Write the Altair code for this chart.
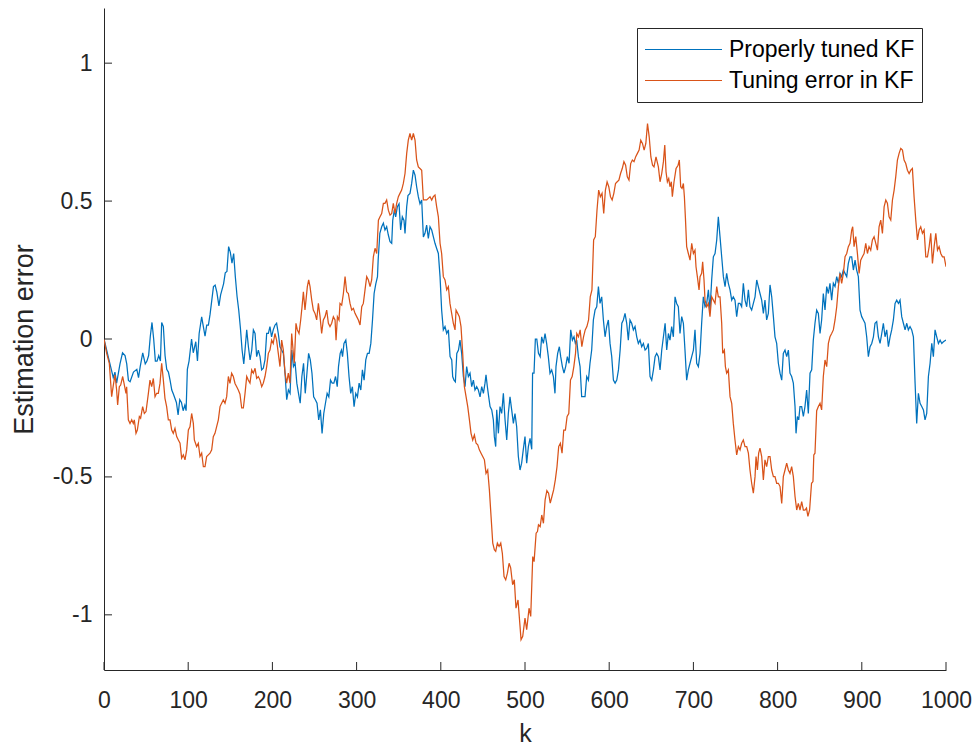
import altair as alt
import pandas as pd

# Series names and MATLAB-style default colours
SERIES = ["Properly tuned KF", "Tuning error in KF"]
COLORS = ["#0072BD", "#D95319"]

# Properly tuned filter: sample index k and estimation error
tuned_k = [
    0, 5, 11, 13, 15, 19, 22, 25, 27, 29, 31, 35, 39, 41, 43, 46, 49, 51, 53, 55,
    57, 59, 61, 63, 65, 67, 68.5, 70.5, 72.5, 74.5, 76.5, 78.5, 80.5, 82.5, 86, 88, 90, 92, 94, 96,
    97.5, 99, 101, 104, 106, 109, 111, 113, 116, 118, 120, 122, 124, 126, 130, 132, 134, 136.5, 138.5, 142,
    144, 146, 148, 150, 152, 154, 156, 158, 160, 162, 164, 166, 167.5, 169.5, 171.5, 173.5, 175.5, 177.4, 179.4, 181.3,
    183.3, 185.3, 187.2, 189.2, 191.2, 193.2, 195.2, 197.1, 199, 201, 203, 205, 207, 209, 211, 213, 215, 217, 219, 221,
    223, 225, 227, 229, 231, 233, 235, 237, 239, 241, 243, 245, 247, 249, 251, 253, 255, 257, 259, 261,
    263, 265, 267, 269, 271, 273, 275, 277, 278.5, 280.5, 282, 283.3, 285, 287.2, 289, 291, 293, 295, 297, 299,
    301, 303, 305, 306.9, 308.9, 310.9, 312.9, 314.9, 316.9, 318.9, 320.8, 322.8, 324.8, 325.6, 327.6, 329.8, 331.8, 333.7, 335.7, 337.7,
    339.7, 341.7, 342.9, 344.8, 346.4, 348.4, 350.4, 352.3, 354.3, 356.3, 357.5, 359.5, 361, 363.4, 365.4, 367.4, 369.4, 371.3, 373.3, 375.3,
    377.3, 379.3, 381.2, 383.2, 385.2, 387.2, 389.2, 391.2, 393.1, 395.1, 397.1, 399.1, 401, 403, 405, 407, 409, 411, 413, 414.1,
    415.7, 417.3, 419, 421, 422.8, 424.8, 426.8, 428.8, 430.7, 432.7, 434.7, 436.7, 438.7, 440.6, 442.6, 444.6, 446.6, 448.6, 450.6, 452.5,
    453.7, 455.3, 456.9, 458.5, 460.5, 462.4, 463.6, 465.2, 466.4, 468.4, 470.3, 472.3, 474.3, 476.3, 478.3, 480.2, 482.2, 484.2, 486.2, 488.1,
    490.1, 492.1, 494.1, 496, 498, 500, 502, 504, 506, 508, 509, 510.7, 512.3, 514, 516, 518, 519.8, 521.8, 523.8, 525.7,
    527.7, 529.7, 531.7, 533.7, 535.6, 536.8, 538.8, 540.8, 542.4, 544.4, 546.3, 548.3, 550.3, 552.3, 554.3, 556.3, 558.2, 559.8, 561.4, 563.4,
    565.4, 567.3, 569.3, 571.3, 573.3, 575.3, 577.2, 579.2, 581.2, 583.2, 585.2, 587.2, 589.1, 591.1, 593.1, 595.1, 597, 599, 601, 603,
    605, 607, 609, 611, 613, 615, 616.8, 618.8, 620.8, 622.7, 624.7, 626.7, 628.7, 630.7, 632.7, 634.6, 636.6, 638.6, 640.6, 642.6,
    644.5, 646.5, 648.5, 650.5, 652.5, 654.5, 656.4, 658.4, 660.4, 662.4, 664.4, 666.4, 668.3, 670.3, 672.2, 674.2, 676.2, 678.2, 680.1, 682.1,
    684.1, 686.1, 688.1, 690, 692, 694, 696, 698, 700, 701.9, 703.9, 705.9, 707.9, 709.8, 711.8, 713.8, 715.8, 717.8, 719.7, 721.7,
    723.7, 725.7, 727.7, 729.6, 731.6, 733.6, 735.6, 737.6, 739.5, 741.5, 743.5, 745.5, 747.4, 749.4, 751.4, 753.4, 755.4, 757.3, 759.3, 761.3,
    763.3, 765.3, 767.2, 769.2, 771.2, 773.2, 775.2, 777.1, 779.1, 781.1, 783.1, 785, 787, 789, 791, 793, 795, 796.9, 798.9, 800.9,
    802.9, 804.9, 806.8, 808.8, 810.8, 812.8, 814.7, 816.7, 818.7, 820.7, 821.9, 823.5, 825.1, 826.6, 828.6, 830.6, 832.5, 834.5, 836.5, 838.5,
    840.5, 842.4, 844.4, 846.4, 848.4, 850.4, 852.3, 854.3, 856.3, 858.3, 860.3, 862.2, 864.2, 866.2, 868.2, 870.2, 872.2, 874.1, 876.1, 878.1,
    880.1, 882.1, 884, 886, 888, 890, 892, 893.9, 895.9, 897.9, 899.9, 901.9, 903.8, 905.8, 907.8, 909.8, 911.8, 913.8, 915.7, 917.7,
    919.7, 921.7, 923.7, 925.6, 927.6, 929.6, 931.6, 933.6, 935.5, 937.5, 939.5, 941.5, 943.5, 945.4, 947.4, 949.4, 951.4, 953.4, 955.3, 957.3,
    959.3, 961.3, 963.3, 965.2, 967.2, 969.2, 971.2, 973.2, 975.1, 977.1, 979.1, 981.1, 983.1, 985, 987, 989, 991, 993, 995, 996.9,
    1000,
]
tuned_err = [
    0, -0.064, -0.14, -0.12, -0.16, -0.09, -0.05, -0.06, -0.09, -0.15, -0.155, -0.12, -0.11, -0.14, -0.10, -0.05, -0.09, -0.08, -0.06, 0.01,
    0.06, 0.0, -0.08, -0.08, -0.06, -0.08, 0.06, 0.045, -0.06, -0.11, -0.12, -0.15, -0.185, -0.2, -0.23, -0.275, -0.22, -0.23, -0.26, -0.24,
    -0.26, -0.11, -0.08, 0, -0.05, -0.01, -0.08, 0.02, 0.08, 0.045, 0.01, 0.05, 0.05, 0.09, 0.19, 0.195, 0.17, 0.12, 0.16, 0.2,
    0.24, 0.245, 0.335, 0.315, 0.275, 0.31, 0.225, 0.155, 0.105, 0.04, -0.04, -0.09, -0.04, 0.033, -0.028, -0.076, -0.04, 0.033, 0.02, -0.064,
    -0.04, -0.064, -0.112, -0.106, -0.076, 0.02, 0.02, 0.045, 0.008, 0.033, 0.05, 0.057, 0.02, -0.028, -0.04, -0.052, -0.124, -0.22, -0.185, -0.197,
    -0.04, -0.1, -0.088, -0.16, -0.197, -0.233, -0.136, -0.088, -0.197, -0.124, -0.052, -0.076, -0.124, -0.21, -0.22, -0.233, -0.293, -0.257, -0.342, -0.27,
    -0.233, -0.197, -0.21, -0.149, -0.16, -0.16, -0.136, -0.173, -0.1, -0.052, -0.04, -0.064, -0.016, -0.004, -0.052, -0.136, -0.197, -0.173, -0.245, -0.197,
    -0.21, -0.16, -0.185, -0.112, -0.149, -0.076, -0.052, -0.052, -0.016, 0.07, 0.165, 0.2, 0.226, 0.286, 0.383, 0.407, 0.42, 0.395, 0.407, 0.377,
    0.353, 0.347, 0.43, 0.467, 0.443, 0.48, 0.49, 0.395, 0.443, 0.43, 0.383, 0.48, 0.52, 0.528, 0.564, 0.612, 0.594, 0.552, 0.516, 0.49,
    0.504, 0.37, 0.383, 0.413, 0.365, 0.407, 0.395, 0.37, 0.347, 0.328, 0.31, 0.226, 0.105, 0.033, 0.045, 0.02, 0.033, -0.064, -0.076, -0.136,
    -0.149, -0.155, -0.052, -0.04, -0.004, -0.052, -0.136, -0.173, -0.1, -0.136, -0.124, -0.173, -0.149, -0.185, -0.173, -0.185, -0.21, -0.173, -0.197, -0.16,
    -0.13, -0.173, -0.21, -0.245, -0.257, -0.293, -0.354, -0.39, -0.257, -0.342, -0.245, -0.27, -0.197, -0.293, -0.366, -0.27, -0.21, -0.257, -0.306, -0.27,
    -0.318, -0.426, -0.475, -0.45, -0.40, -0.354, -0.45, -0.39, -0.36, -0.40, -0.124, -0.124, 0, 0, -0.052, -0.064, 0.008, -0.016, 0.02, -0.016,
    -0.064, -0.124, -0.112, -0.136, -0.197, -0.1, -0.052, -0.028, -0.064, -0.1, -0.124, -0.1, -0.064, -0.088, 0.033, -0.004, 0.008, -0.016, -0.004, -0.064,
    -0.1, -0.209, -0.209, -0.209, -0.136, -0.149, -0.088, -0.04, 0.069, 0.105, 0.117, 0.19, 0.129, 0.153, 0.069, 0.008, 0.045, 0.069, -0.016, -0.064,
    -0.149, -0.16, -0.149, -0.112, -0.04, 0.057, 0.069, 0.093, 0.057, -0.004, 0.069, 0.057, 0.033, 0.045, 0.008, -0.016, -0.004, -0.028, -0.016, -0.04,
    -0.034, -0.016, -0.136, -0.149, -0.112, -0.064, -0.052, -0.064, -0.112, -0.04, 0.008, 0.057, -0.04, 0.02, -0.004, 0.045, 0.008, 0.153, 0.129, 0.117,
    0.02, 0.081, 0.057, -0.04, -0.149, -0.112, -0.088, -0.064, -0.04, 0.033, -0.088, -0.1, -0.052, 0.057, 0.153, 0.117, 0.129, 0.178, 0.105, 0.214,
    0.298, 0.31, 0.359, 0.443, 0.371, 0.298, 0.226, 0.19, 0.238, 0.202, 0.178, 0.141, 0.153, 0.141, 0.081, 0.129, 0.129, 0.117, 0.202, 0.141,
    0.117, 0.178, 0.117, 0.105, 0.129, 0.153, 0.214, 0.19, 0.165, 0.141, 0.093, 0.141, 0.069, 0.093, 0.196, 0.153, 0.081, 0.008, -0.016, -0.088,
    -0.124, -0.149, -0.052, -0.04, -0.064, -0.04, -0.124, -0.136, -0.16, -0.245, -0.342, -0.281, -0.293, -0.245, -0.245, -0.281, -0.245, -0.185, -0.27, -0.124,
    -0.112, -0.004, 0.057, 0.105, 0.093, 0.02, 0.069, 0.165, 0.105, 0.19, 0.165, 0.202, 0.141, 0.202, 0.19, 0.226, 0.202, 0.238, 0.226, 0.25,
    0.238, 0.226, 0.274, 0.298, 0.298, 0.25, 0.286, 0.25, 0.226, 0.105, 0.081, 0.069, 0.057, 0.008, -0.064, -0.028, -0.016, 0.008, 0.057, 0.063,
    0.008, -0.016, 0.02, 0.057, 0.008, 0.033, -0.028, 0.008, 0.033, 0.069, 0.129, 0.141, 0.129, 0.141, 0.081, 0.057, 0.033, 0.057, 0.033, 0.045,
    0.033, 0.008, -0.161, -0.306, -0.197, -0.233, -0.245, -0.257, -0.293, -0.27, -0.136, -0.088, -0.016, -0.064, 0.033, 0.008, -0.016, -0.004, -0.016, -0.01,
    -0.004,
]

# Filter with a tuning error: sample index k and estimation error
mistuned_k = [
    0, 3.2, 6.3, 9.1, 11.1, 13.1, 15, 16.2, 18.2, 19.8, 22.2, 23.8, 26.1, 26.9, 28.9, 30.9, 32.9, 34.8, 36, 38,
    39.6, 42, 43.5, 45.9, 47.9, 49.9, 52.7, 54.6, 56.6, 58.6, 60.6, 62.5, 64.5, 66.5, 68.5, 70.5, 72.4, 74.4, 76.4, 78.4,
    80.4, 82.3, 84.3, 86.3, 88.3, 90.3, 92.2, 94.2, 96.2, 98.2, 100.2, 102.1, 104.1, 106.1, 107.3, 110, 112, 114, 116, 118,
    120, 121.9, 123.9, 125.9, 127.9, 129.8, 131.8, 133.8, 135.8, 137.8, 139.7, 141.7, 143.7, 145.7, 147.7, 149.6, 151.6, 153.6, 155.6, 157.6,
    159.5, 161.5, 163.5, 165.5, 167.5, 169.5, 171.4, 173.4, 175.4, 177.4, 179.4, 181.3, 183.3, 185.3, 187.3, 189.2, 191.2, 193.2, 195.2, 197.1,
    199.1, 201, 203, 205, 207, 209, 211, 213, 215, 216.9, 218.9, 220.9, 222.9, 224.9, 226, 228, 229.6, 231.6, 233.6, 235.2,
    236.8, 238.7, 239.9, 241.5, 243.1, 244.7, 246.7, 248.6, 250.6, 252.6, 254.6, 256.6, 258.5, 260.5, 262.5, 264.5, 266.5, 268.4, 270.4, 272.4,
    274.4, 275.6, 277.2, 279.1, 280.3, 282.3, 284.3, 286.3, 288.2, 290.2, 292.2, 294.2, 296.2, 298.1, 300.1, 302.1, 304.1, 306.1, 308, 310,
    312, 314, 316, 317.9, 319.9, 321.9, 323.9, 325.9, 327.8, 329.8, 331.8, 333.7, 335.7, 337.7, 339.7, 341.7, 343.6, 345.6, 347.6, 349.6,
    351.5, 353.5, 355.5, 357.5, 359.5, 361.4, 363.4, 365.4, 367.4, 369.4, 371.3, 373.3, 375.3, 377.3, 379.3, 381.2, 383.2, 385.2, 387.2, 389.2,
    391.1, 393.1, 395.1, 397.1, 399.1, 401, 403, 405, 407, 409, 410.9, 412.9, 414.9, 416.9, 418.1, 420.1, 422, 424, 426, 428,
    430, 432, 434, 435.9, 437.9, 439.9, 441.9, 443.9, 445.8, 447.8, 449.8, 451.8, 453.7, 455.7, 457.7, 459.7, 461.7, 463.6, 465.2, 467.2,
    469.2, 471.2, 473.1, 475.1, 477.1, 479.1, 481.1, 483, 485.3, 487.3, 489.3, 491.7, 494.1, 495.3, 497.3, 500, 502, 504.8, 506.8, 509.2,
    510.8, 513.2, 514.8, 516, 518, 519.9, 521.9, 523.9, 526, 528, 530, 532, 534, 536, 538, 540, 542, 544, 546, 548,
    550, 552, 554, 556, 558, 560, 561.5, 563.5, 565.5, 567.5, 569.5, 571.5, 573.5, 575.5, 577.5, 579.5, 581.5, 583.5, 585.5, 587.5,
    589.5, 591.5, 593.5, 595.5, 597.5, 599.5, 601.5, 603.5, 605.5, 607.5, 609.5, 611.5, 613.5, 615.5, 617.5, 619.5, 621.5, 623.5, 625.5, 627.5,
    629.5, 631.5, 633.5, 635.5, 637.5, 639.5, 641.5, 643.5, 645.5, 647.5, 649.5, 651.5, 653.2, 655.6, 658.4, 660.4, 662.4, 664.4, 666, 667.5,
    669.1, 670.7, 672.2, 673.8, 675, 677, 679.4, 681.8, 683.3, 684.9, 686.5, 688.1, 689.3, 690.5, 692, 694, 696, 698, 700, 701.9,
    703.1, 704.7, 706.7, 707.9, 709.8, 711, 712.6, 713.8, 715.8, 717.8, 719.7, 721.7, 723.7, 725.7, 727.7, 729.6, 731.6, 733.6, 734.8, 736.8,
    738, 739.5, 741.5, 743.5, 745.5, 747.4, 749.4, 751.4, 753.4, 755.4, 757.3, 759.3, 761.3, 763.3, 765.3, 767.2, 769.2, 771.2, 773.2, 774.4,
    776, 777.5, 779.1, 781.1, 783.1, 785, 787, 789, 791, 793, 795, 796.9, 798.9, 800.9, 802.9, 804.9, 806.8, 808.8, 810.8, 812.8,
    814.7, 816.7, 818.7, 820.7, 822.7, 824.6, 826.6, 828.6, 830.6, 832.5, 834.3, 836, 838, 840.3, 842, 843, 844.4, 846.4, 848.4, 850.4,
    852.3, 854.3, 856.3, 858.3, 860.3, 862.2, 864.2, 866.2, 868.2, 870.2, 872.2, 874.1, 876.1, 878.1, 880.1, 882.1, 884, 886, 888, 889.2,
    890.8, 892.8, 894.8, 896.8, 898.7, 900.7, 902.7, 904.7, 906.7, 908.6, 910.6, 912.6, 914.6, 916.6, 918.6, 920.5, 922.5, 924.5, 926.5, 928.5,
    930.4, 932.4, 934.4, 936.4, 938.4, 940.3, 942.3, 944.3, 946.3, 948.3, 950.2, 952.2, 954.2, 956.2, 958.2, 960.1, 962.1, 964.1, 966.1, 968.1,
    970, 972, 974, 976, 978, 980, 981.9, 983.9, 985.9, 987.9, 989.9, 991.8, 993.8, 995.8, 997.8, 1000,
]
mistuned_err = [
    0, -0.052, -0.088, -0.209, -0.167, -0.13, -0.185, -0.239, -0.173, -0.167, -0.136, -0.161, -0.197, -0.173, -0.293, -0.306, -0.293, -0.306, -0.293, -0.342,
    -0.33, -0.281, -0.287, -0.245, -0.27, -0.263, -0.197, -0.149, -0.173, -0.143, -0.209, -0.197, -0.197, -0.161, -0.088, -0.149, -0.215, -0.245, -0.293, -0.293,
    -0.33, -0.342, -0.324, -0.354, -0.366, -0.378, -0.432, -0.42, -0.438, -0.402, -0.33, -0.318, -0.27, -0.306, -0.366, -0.39, -0.378, -0.426, -0.414, -0.463,
    -0.463, -0.426, -0.42, -0.414, -0.402, -0.354, -0.342, -0.318, -0.293, -0.245, -0.233, -0.221, -0.233, -0.209, -0.136, -0.161, -0.124, -0.136, -0.161, -0.173,
    -0.185, -0.2, -0.25, -0.25, -0.197, -0.136, -0.149, -0.16, -0.112, -0.124, -0.106, -0.143, -0.136, -0.149, -0.173, -0.16, -0.136, -0.1, -0.052, -0.04,
    -0.004, -0.016, 0.02, -0.004, -0.052, -0.1, -0.004, -0.04, -0.124, -0.16, -0.124, -0.16, 0.02, -0.052, -0.088, 0.057, 0.033, 0.02, 0.069, 0.117,
    0.171, 0.105, 0.141, 0.19, 0.214, 0.19, 0.141, 0.105, 0.093, 0.069, 0.129, 0.081, 0.02, 0.069, 0.081, 0.105, 0.057, 0.045, 0.057, 0.081,
    0.069, -0.004, 0.081, 0.069, 0.129, 0.123, 0.165, 0.226, 0.171, 0.165, 0.129, 0.105, 0.111, 0.093, 0.081, 0.069, 0.051, 0.117, 0.129, 0.178,
    0.226, 0.214, 0.19, 0.214, 0.298, 0.329, 0.31, 0.431, 0.443, 0.455, 0.492, 0.492, 0.504, 0.467, 0.449, 0.455, 0.492, 0.455, 0.492, 0.516,
    0.528, 0.54, 0.564, 0.6, 0.673, 0.721, 0.745, 0.721, 0.745, 0.721, 0.649, 0.624, 0.618, 0.612, 0.504, 0.504, 0.504, 0.51, 0.516, 0.504,
    0.516, 0.522, 0.479, 0.443, 0.347, 0.31, 0.226, 0.214, 0.178, 0.19, 0.129, 0.093, 0.057, 0.033, 0.105, 0.093, 0.081, 0.045, -0.052, -0.173,
    -0.209, -0.245, -0.293, -0.342, -0.366, -0.348, -0.378, -0.384, -0.402, -0.414, -0.426, -0.438, -0.487, -0.475, -0.547, -0.644, -0.74, -0.764, -0.77, -0.74,
    -0.752, -0.74, -0.777, -0.861, -0.873, -0.849, -0.813, -0.83, -0.891, -0.873, -0.976, -0.946, -1.042, -1.09, -1.078, -1.012, -1.054, -0.976, -1.006, -0.789,
    -0.807, -0.704, -0.698, -0.674, -0.68, -0.638, -0.668, -0.583, -0.55, -0.559, -0.595, -0.571, -0.547, -0.511, -0.463, -0.39, -0.378, -0.414, -0.33, -0.33,
    -0.281, -0.27, -0.149, -0.136, -0.1, -0.052, 0.02, 0.008, 0.033, -0.028, 0.008, 0.033, 0.045, 0.069, 0.153, 0.178, 0.359, 0.371, 0.467, 0.54,
    0.516, 0.528, 0.455, 0.54, 0.57, 0.552, 0.516, 0.504, 0.528, 0.564, 0.57, 0.576, 0.6, 0.618, 0.643, 0.63, 0.588, 0.576, 0.636, 0.649,
    0.643, 0.661, 0.673, 0.685, 0.721, 0.709, 0.685, 0.709, 0.781, 0.733, 0.66, 0.63, 0.624, 0.66, 0.624, 0.57, 0.6, 0.643, 0.703, 0.606,
    0.57, 0.582, 0.552, 0.57, 0.516, 0.57, 0.618, 0.63, 0.649, 0.552, 0.546, 0.564, 0.516, 0.44, 0.335, 0.31, 0.286, 0.347, 0.31, 0.322,
    0.262, 0.226, 0.178, 0.226, 0.238, 0.28, 0.214, 0.141, 0.117, 0.129, 0.081, 0.153, 0.141, 0.129, 0.19, 0.153, 0.153, 0.057, -0.052, -0.04,
    -0.1, -0.124, -0.112, -0.209, -0.233, -0.306, -0.366, -0.42, -0.39, -0.402, -0.378, -0.366, -0.39, -0.39, -0.414, -0.475, -0.523, -0.559, -0.499, -0.426,
    -0.475, -0.414, -0.396, -0.426, -0.511, -0.438, -0.463, -0.426, -0.426, -0.475, -0.499, -0.499, -0.523, -0.523, -0.535, -0.596, -0.499, -0.475, -0.45, -0.475,
    -0.487, -0.463, -0.499, -0.571, -0.62, -0.596, -0.62, -0.59, -0.62, -0.62, -0.613, -0.643, -0.62, -0.523, -0.517, -0.42, -0.414, -0.26, -0.245, -0.233,
    -0.257, -0.136, -0.076, -0.1, -0.016, 0.008, 0.02, 0.033, 0.069, 0.117, 0.19, 0.238, 0.202, 0.238, 0.298, 0.31, 0.335, 0.347, 0.395, 0.407,
    0.335, 0.371, 0.31, 0.238, 0.286, 0.298, 0.31, 0.347, 0.31, 0.335, 0.322, 0.359, 0.371, 0.347, 0.322, 0.407, 0.431, 0.383, 0.479, 0.504,
    0.492, 0.443, 0.431, 0.504, 0.54, 0.588, 0.649, 0.673, 0.691, 0.685, 0.649, 0.636, 0.612, 0.6, 0.612, 0.618, 0.515, 0.431, 0.359, 0.395,
    0.407, 0.383, 0.395, 0.298, 0.298, 0.335, 0.383, 0.274, 0.335, 0.383, 0.322, 0.335, 0.31, 0.298, 0.298, 0.262,
]

# Axis tick positions
x_ticks = list(range(0, 1001, 100))
y_ticks = [-1, -0.5, 0, 0.5, 1]

df = pd.concat(
    [
        pd.DataFrame({"k": tuned_k, "err": tuned_err, "series": SERIES[0]}),
        pd.DataFrame({"k": mistuned_k, "err": mistuned_err, "series": SERIES[1]}),
    ],
    ignore_index=True,
)

W, H = 842, 662
FONT = "Liberation Sans"
AXIS_COLOR = "#262626"
TICK_LEN = 8

x_scale = alt.Scale(domain=[0, 1000], nice=False, zero=False)
y_scale = alt.Scale(domain=[-1.2, 1.2], nice=False, zero=False)

x_axis = alt.Axis(
    values=x_ticks,
    title="k",
    labelExpr="toString(datum.value)",
    labelFlush=False,
    labelOverlap=False,
    titleY=71,
    titleBaseline="alphabetic",
    labelPadding=19,
)
y_axis = alt.Axis(
    values=y_ticks,
    title="Estimation error",
    labelExpr="toString(datum.value)",
    labelFlush=False,
    labelOverlap=False,
    titleX=-72,
    titleAngle=270,
    titleBaseline="alphabetic",
    titleFontSize=27,
    labelPadding=12,
)

lines = alt.Chart(df).mark_line(strokeWidth=1.25, clip=True).encode(
    x=alt.X("k:Q", scale=x_scale, axis=x_axis),
    y=alt.Y("err:Q", scale=y_scale, axis=y_axis),
    color=alt.Color(
        "series:N",
        scale=alt.Scale(domain=SERIES, range=COLORS),
        legend=alt.Legend(
            title=None,
            orient="none",
            legendX=533,
            legendY=20,
            symbolType="stroke",
            symbolSize=5929,
            symbolStrokeWidth=1.2,
            clipHeight=29,
            labelFont=FONT,
            labelFontSize=23,
            labelColor="black",
            labelOffset=6,
            labelLimit=0,
            padding=7,
            rowPadding=2,
            strokeColor=AXIS_COLOR,
            fillColor="white",
        ),
    ),
)

# Inward-pointing tick marks on the bottom and left axes
x_tick_marks = alt.Chart(pd.DataFrame({"k": x_ticks})).mark_rule(
    color=AXIS_COLOR, strokeWidth=1
).encode(
    x=alt.X("k:Q", scale=x_scale, axis=x_axis),
    y=alt.value(H),
    y2=alt.value(H - TICK_LEN),
)
y_tick_marks = alt.Chart(pd.DataFrame({"err": y_ticks})).mark_rule(
    color=AXIS_COLOR, strokeWidth=1
).encode(
    y=alt.Y("err:Q", scale=y_scale, axis=y_axis),
    x=alt.value(0),
    x2=alt.value(TICK_LEN),
)

chart = (
    alt.layer(lines, x_tick_marks, y_tick_marks)
    .properties(
        width=W,
        height=H,
        autosize=alt.AutoSizeParams(type="none"),
        padding={"left": 104, "top": 8, "right": 30, "bottom": 78},
        background="white",
    )
    .configure_view(stroke=None)
    .configure_axis(
        grid=False,
        ticks=False,
        domainColor=AXIS_COLOR,
        domainWidth=1,
        labelFont=FONT,
        labelFontSize=23,
        labelColor=AXIS_COLOR,
        titleFont=FONT,
        titleFontSize=25,
        titleFontWeight="normal",
        titleColor=AXIS_COLOR,
    )
)

chart.save("out.html", embed_options={"renderer": "svg", "actions": False})
